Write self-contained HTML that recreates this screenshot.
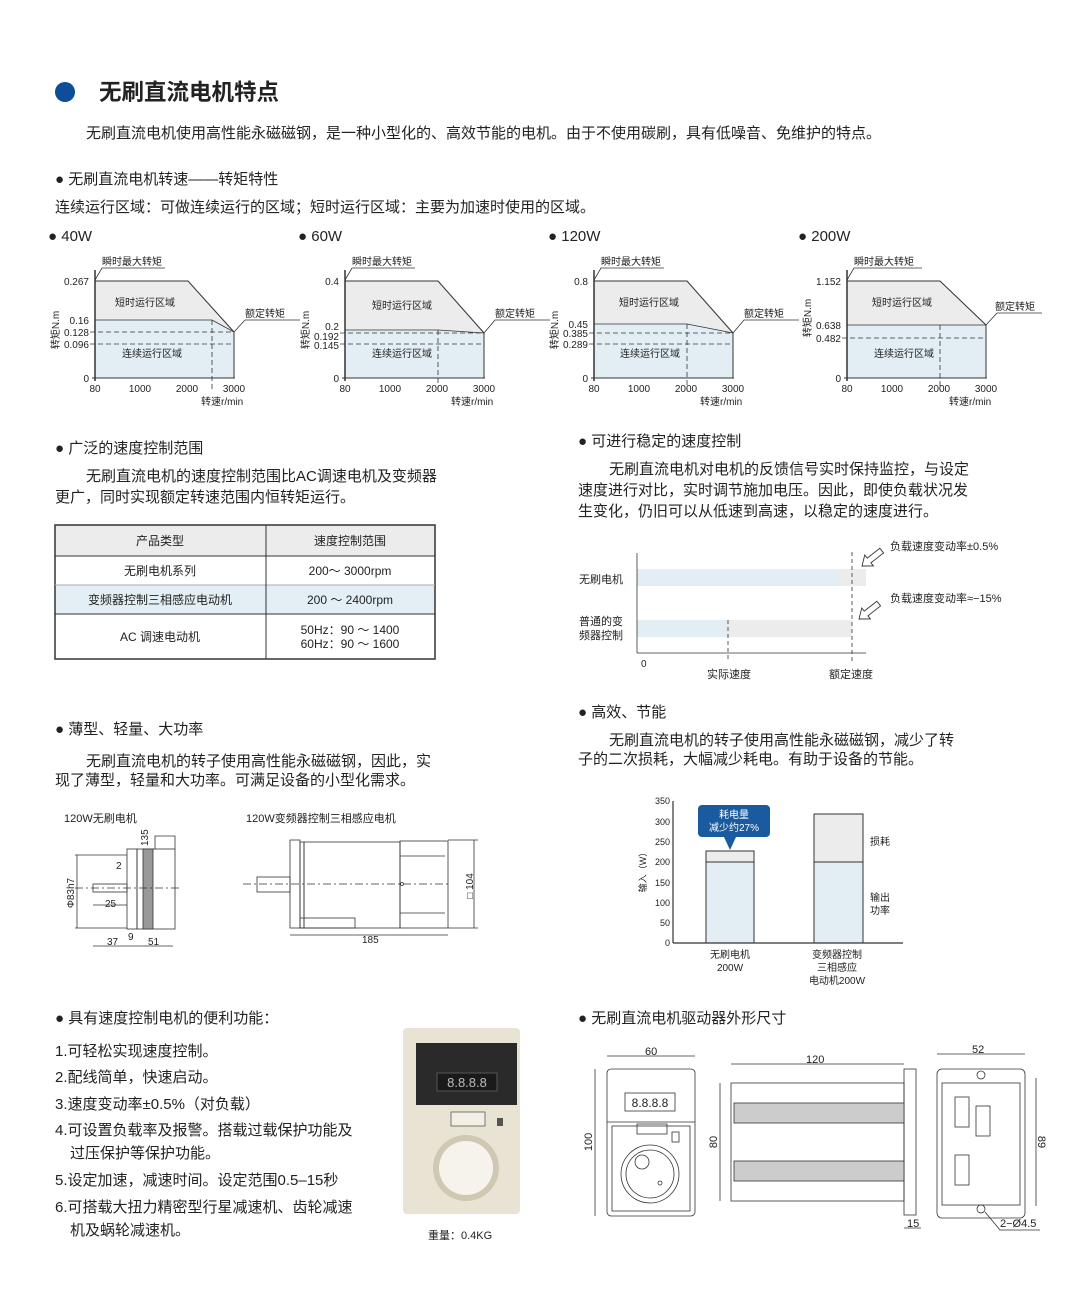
<!DOCTYPE html>
<html><head><meta charset="utf-8"><style>
html,body{margin:0;padding:0;background:#fff}
svg{display:block}
text{font-family:"Liberation Sans","Noto Sans CJK SC",sans-serif;fill:#222}
.s{font-size:10px}.m{font-size:15px}.t{font-size:11px}
</style></head><body>
<svg width="1080" height="1297" viewBox="0 0 1080 1297" xmlns="http://www.w3.org/2000/svg">
<circle cx="65" cy="92" r="10" fill="#0e4d97"/>
<text x="99" y="100" style="font-size:22.5px;font-weight:bold" fill="#222">无刷直流电机特点</text>
<text x="86" y="138" class="m">无刷直流电机使用高性能永磁磁钢，是一种小型化的、高效节能的电机。由于不使用碳刷，具有低噪音、免维护的特点。</text>
<text x="55" y="184" class="m">● 无刷直流电机转速——转矩特性</text>
<text x="55" y="212" class="m">连续运行区域：可做连续运行的区域；短时运行区域：主要为加速时使用的区域。</text>
<text x="48" y="241" class="m">● 40W</text><text x="298" y="241" class="m">● 60W</text><text x="548" y="241" class="m">● 120W</text><text x="798" y="241" class="m">● 200W</text>

<g transform="translate(95,0)">
<polygon points="0,281 93,281 139,332 139,378 0,378" fill="#ececec"/>
<polygon points="0,320 117,320 139,332 139,378 0,378" fill="#e3eef4"/>
<polyline points="0,281 93,281 139,332 139,378" fill="none" stroke="#333"/>
<polyline points="0,320 117,320 139,332" fill="none" stroke="#333" stroke-width=".8"/>
<g stroke="#333" stroke-dasharray="5,3" stroke-width=".8"><line x1="-5" y1="332" x2="139" y2="332"/><line x1="-5" y1="344" x2="139" y2="344"/><line x1="117" y1="320" x2="117" y2="390"/></g>
<text x="-6" y="285" class="s" text-anchor="end">0.267</text><text x="-6" y="324" class="s" text-anchor="end">0.16</text><text x="-6" y="336" class="s" text-anchor="end">0.128</text><text x="-6" y="348" class="s" text-anchor="end">0.096</text>
</g>
<g transform="translate(345,0)">
<polygon points="0,281 93,281 139,333 139,378 0,378" fill="#ececec"/>
<polygon points="0,330 93,330 139,333 139,378 0,378" fill="#e3eef4"/>
<polyline points="0,281 93,281 139,333 139,378" fill="none" stroke="#333"/>
<polyline points="0,330 93,330 139,333" fill="none" stroke="#333" stroke-width=".8"/>
<g stroke="#333" stroke-dasharray="5,3" stroke-width=".8"><line x1="-5" y1="333" x2="139" y2="333"/><line x1="-5" y1="344" x2="139" y2="344"/><line x1="93" y1="330" x2="93" y2="390"/></g>
<text x="-6" y="285" class="s" text-anchor="end">0.4</text><text x="-6" y="330" class="s" text-anchor="end">0.2</text><text x="-6" y="340" class="s" text-anchor="end">0.192</text><text x="-6" y="349" class="s" text-anchor="end">0.145</text>
</g>
<g transform="translate(594,0)">
<polygon points="0,281 93,281 139,333 139,378 0,378" fill="#ececec"/>
<polygon points="0,324 93,324 139,333 139,378 0,378" fill="#e3eef4"/>
<polyline points="0,281 93,281 139,333 139,378" fill="none" stroke="#333"/>
<polyline points="0,324 93,324 139,333" fill="none" stroke="#333" stroke-width=".8"/>
<g stroke="#333" stroke-dasharray="5,3" stroke-width=".8"><line x1="-5" y1="333" x2="139" y2="333"/><line x1="-5" y1="344" x2="139" y2="344"/><line x1="93" y1="324" x2="93" y2="390"/></g>
<text x="-6" y="285" class="s" text-anchor="end">0.8</text><text x="-6" y="328" class="s" text-anchor="end">0.45</text><text x="-6" y="337" class="s" text-anchor="end">0.385</text><text x="-6" y="348" class="s" text-anchor="end">0.289</text>
</g>
<g transform="translate(847,0)">
<polygon points="0,281 93,281 139,325 139,378 0,378" fill="#ececec"/>
<polygon points="0,325 139,325 139,378 0,378" fill="#e3eef4"/>
<polyline points="0,281 93,281 139,325 139,378" fill="none" stroke="#333"/>
<line x1="0" y1="325" x2="139" y2="325" stroke="#333" stroke-width=".8"/>
<g stroke="#333" stroke-dasharray="5,3" stroke-width=".8"><line x1="-5" y1="338" x2="139" y2="338"/><line x1="93" y1="325" x2="93" y2="390"/></g>
<text x="-6" y="285" class="s" text-anchor="end">1.152</text><text x="-6" y="329" class="s" text-anchor="end">0.638</text><text x="-6" y="342" class="s" text-anchor="end">0.482</text>
</g>
<g>
<g transform="translate(95,0)"><line x1="0" y1="270" x2="0" y2="381" stroke="#333" stroke-width="1.5"/><line x1="-3" y1="378" x2="140" y2="378" stroke="#333"/><text x="-6" y="382" class="s" text-anchor="end">0</text><text x="0" y="392" class="s" text-anchor="middle">80</text><text x="45" y="392" class="s" text-anchor="middle">1000</text><text x="92" y="392" class="s" text-anchor="middle">2000</text><text x="139" y="392" class="s" text-anchor="middle">3000</text><text x="106" y="405" class="s">转速r/min</text><text class="s" transform="translate(-36,330) rotate(-90)" text-anchor="middle">转矩N.m</text><text x="7" y="265" class="s">瞬时最大转矩</text><polyline points="70,268 7,268 0,280" fill="none" stroke="#333" stroke-width=".8"/><text x="150" y="317" class="s">额定转矩</text><polyline points="205,320 150,320 139,332" fill="none" stroke="#333" stroke-width=".8"/><text x="20" y="306" class="s">短时运行区域</text><text x="27" y="357" class="s">连续运行区域</text></g>
<g transform="translate(345,0)"><line x1="0" y1="270" x2="0" y2="381" stroke="#333" stroke-width="1.5"/><line x1="-3" y1="378" x2="140" y2="378" stroke="#333"/><text x="-6" y="382" class="s" text-anchor="end">0</text><text x="0" y="392" class="s" text-anchor="middle">80</text><text x="45" y="392" class="s" text-anchor="middle">1000</text><text x="92" y="392" class="s" text-anchor="middle">2000</text><text x="139" y="392" class="s" text-anchor="middle">3000</text><text x="106" y="405" class="s">转速r/min</text><text class="s" transform="translate(-36,330) rotate(-90)" text-anchor="middle">转矩N.m</text><text x="7" y="265" class="s">瞬时最大转矩</text><polyline points="70,268 7,268 0,280" fill="none" stroke="#333" stroke-width=".8"/><text x="150" y="317" class="s">额定转矩</text><polyline points="205,320 150,320 139,333" fill="none" stroke="#333" stroke-width=".8"/><text x="27" y="309" class="s">短时运行区域</text><text x="27" y="357" class="s">连续运行区域</text></g>
<g transform="translate(594,0)"><line x1="0" y1="270" x2="0" y2="381" stroke="#333" stroke-width="1.5"/><line x1="-3" y1="378" x2="140" y2="378" stroke="#333"/><text x="-6" y="382" class="s" text-anchor="end">0</text><text x="0" y="392" class="s" text-anchor="middle">80</text><text x="45" y="392" class="s" text-anchor="middle">1000</text><text x="92" y="392" class="s" text-anchor="middle">2000</text><text x="139" y="392" class="s" text-anchor="middle">3000</text><text x="106" y="405" class="s">转速r/min</text><text class="s" transform="translate(-36,330) rotate(-90)" text-anchor="middle">转矩N.m</text><text x="7" y="265" class="s">瞬时最大转矩</text><polyline points="70,268 7,268 0,280" fill="none" stroke="#333" stroke-width=".8"/><text x="150" y="317" class="s">额定转矩</text><polyline points="205,320 150,320 139,333" fill="none" stroke="#333" stroke-width=".8"/><text x="25" y="306" class="s">短时运行区域</text><text x="26" y="357" class="s">连续运行区域</text></g>
<g transform="translate(847,0)"><line x1="0" y1="270" x2="0" y2="381" stroke="#333" stroke-width="1.5"/><line x1="-3" y1="378" x2="140" y2="378" stroke="#333"/><text x="-6" y="382" class="s" text-anchor="end">0</text><text x="0" y="392" class="s" text-anchor="middle">80</text><text x="45" y="392" class="s" text-anchor="middle">1000</text><text x="92" y="392" class="s" text-anchor="middle">2000</text><text x="139" y="392" class="s" text-anchor="middle">3000</text><text x="102" y="405" class="s">转速r/min</text><text class="s" transform="translate(-36,318) rotate(-90)" text-anchor="middle">转矩N.m</text><text x="7" y="265" class="s">瞬时最大转矩</text><polyline points="75,268 7,268 0,280" fill="none" stroke="#333" stroke-width=".8"/><text x="148" y="310" class="s">额定转矩</text><polyline points="195,313 150,313 139,325" fill="none" stroke="#333" stroke-width=".8"/><text x="25" y="306" class="s">短时运行区域</text><text x="27" y="357" class="s">连续运行区域</text></g>
</g>

<text x="55" y="453" class="m">● 广泛的速度控制范围</text>
<text x="86" y="481" class="m">无刷直流电机的速度控制范围比AC调速电机及变频器</text>
<text x="55" y="502" class="m">更广，同时实现额定转速范围内恒转矩运行。</text>
<rect x="55" y="525" width="380" height="31" fill="#ececec"/>
<rect x="55" y="585" width="380" height="29" fill="#e3eff5"/>
<g stroke="#333" fill="none"><rect x="55" y="525" width="380" height="134" stroke-width="1.5"/><line x1="55" y1="556" x2="435" y2="556"/><line x1="55" y1="585" x2="435" y2="585" stroke="#aaa"/><line x1="55" y1="614" x2="435" y2="614"/><line x1="266" y1="525" x2="266" y2="659"/></g>
<g style="font-size:12px" text-anchor="middle"><text x="160" y="545">产品类型</text><text x="350" y="545">速度控制范围</text><text x="160" y="575">无刷电机系列</text><text x="350" y="575">200～ 3000rpm</text><text x="160" y="604">变频器控制三相感应电动机</text><text x="350" y="604">200 ～ 2400rpm</text><text x="160" y="641">AC 调速电动机</text><text x="350" y="634">50Hz：90 ～ 1400</text><text x="350" y="648">60Hz：90 ～ 1600</text></g>

<text x="55" y="734" class="m">● 薄型、轻量、大功率</text>
<text x="86" y="766" class="m">无刷直流电机的转子使用高性能永磁磁钢，因此，实</text>
<text x="55" y="785" class="m">现了薄型，轻量和大功率。可满足设备的小型化需求。</text>
<text x="64" y="822" class="t">120W无刷电机</text><text x="246" y="822" class="t">120W变频器控制三相感应电机</text>
<g stroke="#333" fill="none" stroke-width=".8">
<rect x="127" y="849" width="10" height="80"/><rect x="137" y="849" width="38" height="80"/>
<rect x="143" y="849" width="10" height="80" fill="#999"/>
<polyline points="155,849 155,836 175,836 175,849"/>
<rect x="93" y="884" width="34" height="8"/>
<line x1="75" y1="888" x2="180" y2="888" stroke-dasharray="8,3,2,3"/>
<line x1="75" y1="855" x2="127" y2="855"/><line x1="75" y1="928" x2="127" y2="928"/><line x1="77" y1="855" x2="77" y2="928"/>
<line x1="93" y1="946" x2="173" y2="946"/><line x1="93" y1="905" x2="127" y2="905"/>
</g>
<text class="s" transform="translate(74,893) rotate(-90)" text-anchor="middle">Φ83h7</text>
<text x="105" y="907" class="s">25</text><text x="116" y="869" class="s">2</text><text x="107" y="945" class="s">37</text><text x="128" y="940" class="s">9</text><text x="148" y="945" class="s">51</text><text class="s" transform="translate(148,846) rotate(-90)">135</text>
<g stroke="#333" fill="none" stroke-width=".8">
<rect x="290" y="840" width="10" height="88"/><rect x="300" y="842" width="4" height="86"/>
<rect x="304" y="842" width="96" height="86"/><rect x="400" y="841" width="48" height="87"/>
<line x1="400" y1="856" x2="445" y2="856"/><line x1="400" y1="913" x2="445" y2="913"/>
<rect x="300" y="918" width="55" height="10"/>
<rect x="257" y="877" width="33" height="15"/>
<line x1="243" y1="884" x2="450" y2="884" stroke-dasharray="8,3,2,3"/>
<line x1="290" y1="935" x2="448" y2="935"/><line x1="474" y1="840" x2="474" y2="928"/>
<line x1="448" y1="840" x2="478" y2="840"/><line x1="448" y1="928" x2="478" y2="928"/>
<circle cx="402" cy="884" r="1.5"/>
</g>
<text x="362" y="943" class="s">185</text><text class="s" transform="translate(473,886) rotate(-90)" text-anchor="middle">□ 104</text>

<text x="578" y="446" class="m">● 可进行稳定的速度控制</text>
<text x="609" y="474" class="m">无刷直流电机对电机的反馈信号实时保持监控，与设定</text>
<text x="578" y="495" class="m">速度进行对比，实时调节施加电压。因此，即使负载状况发</text>
<text x="578" y="516" class="m">生变化，仍旧可以从低速到高速，以稳定的速度进行。</text>
<rect x="637" y="569" width="203" height="17" fill="#e3eef4"/><rect x="840" y="569" width="26" height="17" fill="#ececec"/>
<rect x="637" y="620" width="91" height="17" fill="#e3eef4"/><rect x="728" y="620" width="124" height="17" fill="#ececec"/>
<g stroke="#333" stroke-width=".8"><line x1="637" y1="553" x2="637" y2="653"/><line x1="637" y1="653" x2="866" y2="653"/>
<g stroke-dasharray="4,3"><line x1="852" y1="552" x2="852" y2="662"/><line x1="728" y1="620" x2="728" y2="662"/></g></g>
<g fill="#fff" stroke="#333" stroke-width=".9">
<polygon transform="translate(862,566) rotate(-38)" points="0,0 9,-7 9,-3 25,-3 25,3 9,3 9,7"/>
<polygon transform="translate(859,619) rotate(-38)" points="0,0 9,-7 9,-3 25,-3 25,3 9,3 9,7"/></g>
<text x="890" y="550" class="t">负载速度变动率±0.5%</text><text x="890" y="602" class="t">负载速度变动率≈−15%</text>
<text x="579" y="583" class="t">无刷电机</text><text x="579" y="625" class="t">普通的变</text><text x="579" y="639" class="t">频器控制</text>
<text x="641" y="667" class="s">0</text><text x="707" y="678" class="t">实际速度</text><text x="829" y="678" class="t">额定速度</text>

<text x="578" y="717" class="m">● 高效、节能</text>
<text x="609" y="745" class="m">无刷直流电机的转子使用高性能永磁磁钢，减少了转</text>
<text x="578" y="764" class="m">子的二次损耗，大幅减少耗电。有助于设备的节能。</text>
<rect x="706" y="851" width="48" height="11" fill="#ececec"/><rect x="706" y="862" width="48" height="81" fill="#e3eef4"/>
<rect x="814" y="814" width="49" height="48" fill="#ececec"/><rect x="814" y="862" width="49" height="81" fill="#e3eef4"/>
<g stroke="#333" fill="none"><rect x="706" y="851" width="48" height="92"/><line x1="706" y1="862" x2="754" y2="862"/><rect x="814" y="814" width="49" height="129"/><line x1="814" y1="862" x2="863" y2="862"/>
<line x1="673" y1="801" x2="673" y2="943" stroke-width="1.2"/><line x1="673" y1="943" x2="903" y2="943" stroke-width="1.2"/></g>
<g class="s" text-anchor="end" style="font-size:9px"><text x="670" y="804">350</text><text x="670" y="825">300</text><text x="670" y="845">250</text><text x="670" y="865">200</text><text x="670" y="886">150</text><text x="670" y="906">100</text><text x="670" y="926">50</text><text x="670" y="946">0</text></g>
<text class="s" transform="translate(646,870) rotate(-90)" text-anchor="middle" style="font-size:9px">输入（W）</text>
<path d="M702,805 h64 a4,4 0 0 1 4,4 v24 a4,4 0 0 1 -4,4 h-30 l-6,13 l-6,-13 h-22 a4,4 0 0 1 -4,-4 v-24 a4,4 0 0 1 4,-4z" fill="#1a5a9e"/>
<text x="734" y="818" class="s" text-anchor="middle" style="fill:#fff">耗电量</text><text x="734" y="831" class="s" text-anchor="middle" style="fill:#fff">减少约27%</text>
<text x="870" y="845" class="s">损耗</text><text x="870" y="901" class="s">输出</text><text x="870" y="914" class="s">功率</text>
<g class="s" text-anchor="middle"><text x="730" y="958">无刷电机</text><text x="730" y="971">200W</text><text x="837" y="958">变频器控制</text><text x="837" y="971">三相感应</text><text x="837" y="984">电动机200W</text></g>

<text x="55" y="1023" class="m">● 具有速度控制电机的便利功能：</text>
<g class="m"><text x="55" y="1056">1.可轻松实现速度控制。</text><text x="55" y="1082">2.配线简单，快速启动。</text><text x="55" y="1109">3.速度变动率±0.5%（对负载）</text><text x="55" y="1135">4.可设置负载率及报警。搭载过载保护功能及</text><text x="70" y="1158">过压保护等保护功能。</text><text x="55" y="1185">5.设定加速，减速时间。设定范围0.5–15秒</text><text x="55" y="1212">6.可搭载大扭力精密型行星减速机、齿轮减速</text><text x="70" y="1235">机及蜗轮减速机。</text></g>
<rect x="403" y="1028" width="117" height="186" rx="4" fill="#e8e3d3"/>
<rect x="416" y="1043" width="101" height="62" fill="#2a2a2a"/>
<rect x="437" y="1073" width="60" height="18" fill="#1a1a1a" stroke="#555"/>
<text x="467" y="1087" text-anchor="middle" style="font-size:13px;fill:#bbb">8.8.8.8</text>
<rect x="451" y="1112" width="34" height="14" fill="#f3efe4" stroke="#777"/>
<rect x="497" y="1118" width="6" height="8" fill="#555"/>
<circle cx="466" cy="1168" r="33" fill="#cfc8b3"/><circle cx="466" cy="1168" r="27" fill="#f5f3ec"/>
<text x="428" y="1239" class="t">重量：0.4KG</text>
<text x="578" y="1023" class="m">● 无刷直流电机驱动器外形尺寸</text>
<g stroke="#333" fill="none" stroke-width=".8">
<rect x="607" y="1069" width="88" height="147" rx="4"/><line x1="607" y1="1122" x2="695" y2="1122"/><rect x="612" y="1126" width="78" height="85"/>
<rect x="625" y="1093" width="50" height="18"/><rect x="637" y="1124" width="30" height="10"/>
<circle cx="650" cy="1174" r="29"/><circle cx="650" cy="1174" r="24"/><circle cx="642" cy="1162" r="7"/><circle cx="660" cy="1183" r="2"/><rect x="672" y="1132" width="7" height="10"/>
<line x1="607" y1="1056" x2="695" y2="1056"/><line x1="595" y1="1069" x2="595" y2="1216"/>
<rect x="731" y="1083" width="173" height="118"/><rect x="904" y="1069" width="12" height="146"/>
<rect x="734" y="1103" width="170" height="20" fill="#ccc"/><rect x="734" y="1161" width="170" height="20" fill="#ccc"/>
<line x1="731" y1="1064" x2="904" y2="1064"/><line x1="720" y1="1083" x2="720" y2="1201"/><line x1="904" y1="1228" x2="921" y2="1228"/>
<rect x="937" y="1069" width="88" height="149" rx="5"/><rect x="942" y="1083" width="78" height="122"/>
<rect x="955" y="1097" width="14" height="30"/><rect x="976" y="1106" width="14" height="30"/><rect x="955" y="1155" width="14" height="30"/>
<circle cx="981" cy="1075" r="4"/><circle cx="981" cy="1209" r="4"/>
<line x1="937" y1="1054" x2="1025" y2="1054"/><line x1="1036" y1="1078" x2="1036" y2="1206"/>
<polyline points="985,1212 1000,1230 1040,1230"/>
</g>
<g class="s" style="font-size:11px"><text x="645" y="1055">60</text><text x="806" y="1063">120</text><text x="972" y="1053">52</text><text x="907" y="1227">15</text><text x="1000" y="1227">2−Ø4.5</text>
<text transform="translate(592,1142) rotate(-90)" text-anchor="middle">100</text><text transform="translate(717,1142) rotate(-90)" text-anchor="middle">80</text><text transform="translate(1038,1142) rotate(90)" text-anchor="middle">89</text></g>
<text x="650" y="1107" text-anchor="middle" style="font-size:12px">8.8.8.8</text>
</svg>
</body></html>
